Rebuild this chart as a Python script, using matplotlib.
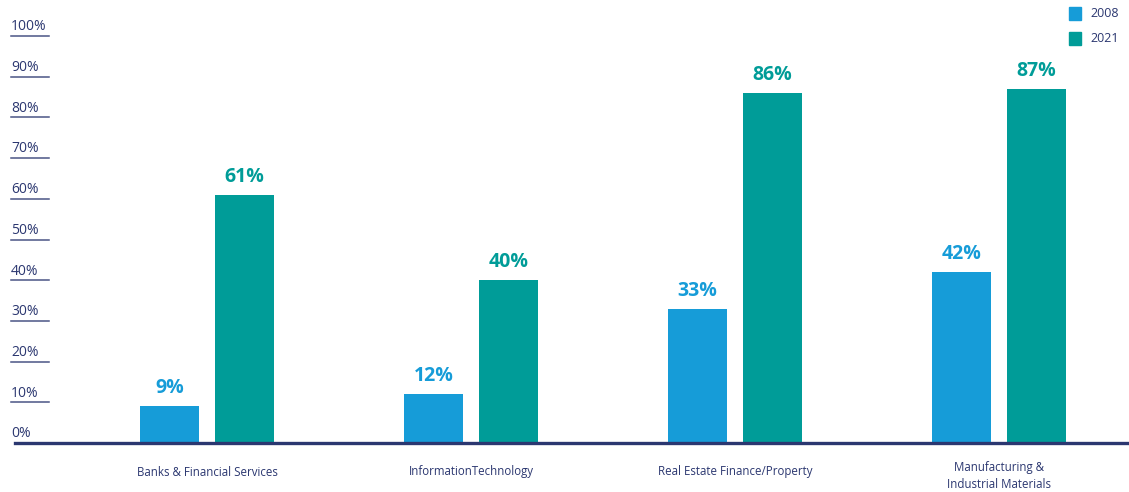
import matplotlib.pyplot as plt
import matplotlib.transforms as mtransforms
import numpy as np

plt.rcParams["font.family"] = ["Open Sans", "DejaVu Sans"]

NAVY  = "#2b3770"
BLUE  = "#169cd8"
TEAL  = "#009c98"

categories = ["Banks & Financial Services", "InformationTechnology",
              "Real Estate Finance/Property", "Manufacturing &\nIndustrial Materials"]
years      = ["2008", "2021"]
share_2008 = [9, 12, 33, 42]
share_2021 = [61, 40, 86, 87]
y_ticks    = [0, 10, 20, 30, 40, 50, 60, 70, 80, 90, 100]

W, H = 1129, 492
fig = plt.figure(figsize=(W / 100, H / 100), dpi=100)
ax = fig.add_axes([15 / W, (H - 443) / H, (W - 15) / W, 407 / H])

x = np.arange(len(categories))
bw, off = 0.2235, 0.142
ax.bar(x - off, share_2008, bw, color=BLUE, zorder=2)
ax.bar(x + off, share_2021, bw, color=TEAL, zorder=2)

for xi, a, b in zip(x, share_2008, share_2021):
    ax.text(xi - off, a + 2.0, f"{a}%", ha="center", va="bottom",
            fontsize=14, fontweight="bold", color=BLUE)
    ax.text(xi + off, b + 2.0, f"{b}%", ha="center", va="bottom",
            fontsize=14, fontweight="bold", color=TEAL)

ax.set_xlim(-0.727, 3.492)
ax.set_ylim(0, 100)
ax.axis("off")

# baseline
ax.axhline(0, color=NAVY, lw=2.4, zorder=3, clip_on=False)

# y labels with short underlines at the left edge
tr = mtransforms.blended_transform_factory(fig.transFigure, ax.transData)
for t in y_ticks:
    ax.text(11 / W, t + 0.4, f"{t}%", transform=tr, ha="left", va="bottom",
            fontsize=10, color=NAVY, clip_on=False)
    if t > 0:
        ax.plot([11 / W, 49 / W], [t, t], transform=tr, color=NAVY,
                lw=1.1, alpha=0.85, clip_on=False)

# category names under the axis
trx = mtransforms.blended_transform_factory(ax.transData, fig.transFigure)
for xi, name in zip(x, categories):
    n = name.count("\n")
    ax.text(xi, (H - 472 - 4 * n) / H, name, transform=trx, ha="center", va="center",
            fontsize=8.3, color=NAVY, linespacing=1.35, clip_on=False)

# legend
for i, (yr, c) in enumerate(zip(years, [BLUE, TEAL])):
    yc = 13.5 + i * 25
    fig.patches.append(plt.Rectangle((1069 / W, (H - yc - 6) / H), 12 / W, 12 / H,
                                     transform=fig.transFigure, color=c))
    fig.text(1090 / W, (H - yc) / H, yr, ha="left", va="center",
             fontsize=9, color=NAVY)

fig.savefig("out.png", dpi=100)
